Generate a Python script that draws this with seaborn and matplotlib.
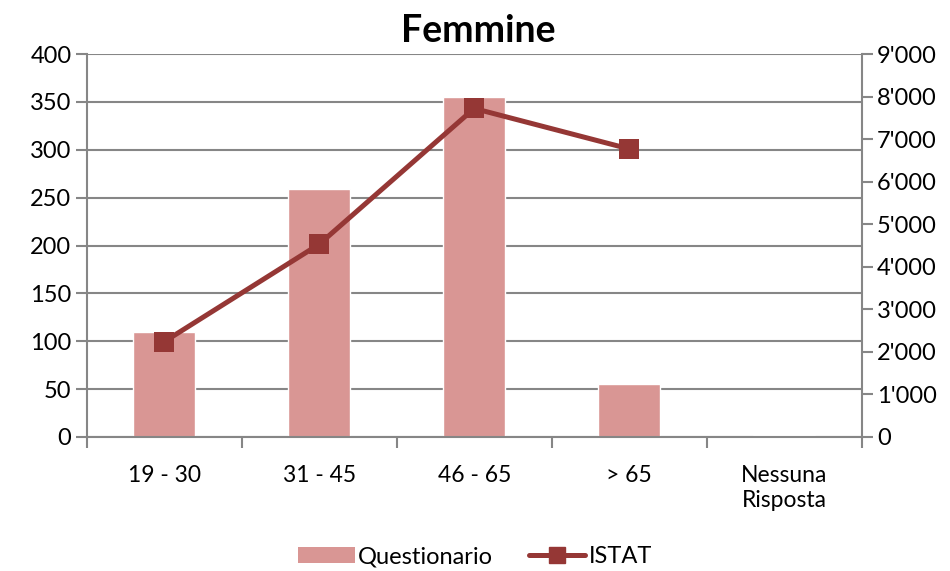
import numpy as np
import pandas as pd
import matplotlib
matplotlib.use("Agg")
import matplotlib.pyplot as plt
import seaborn as sns
from matplotlib.ticker import FuncFormatter, MultipleLocator, FixedLocator
from matplotlib.lines import Line2D
from matplotlib.patches import Patch

categories = ["19 - 30", "31 - 45", "46 - 65", "> 65", "Nessuna\nRisposta"]
questionario = [110, 259, 355, 55, 2]
istat_categories = ["19 - 30", "31 - 45", "46 - 65", "> 65"]
istat = [2240, 4530, 7720, 6770]

bar_color = "#D99694"
line_color = "#953735"
grid_color = "#868686"

sns.set_theme(style="white")
plt.rcParams["font.family"] = ["Lato", "DejaVu Sans"]
plt.rcParams["text.color"] = "black"

df_bar = pd.DataFrame({"fascia": categories, "valore": questionario})
df_line = pd.DataFrame({"pos": [categories.index(c) for c in istat_categories], "valore": istat})

fig, ax = plt.subplots(figsize=(9.5, 5.71), dpi=100)
fig.subplots_adjust(left=0.0913, right=0.907, top=0.9054, bottom=0.2347)

sns.barplot(data=df_bar, x="fascia", y="valore", color=bar_color, width=0.4,
            saturation=1, ax=ax, zorder=2)
ax.set_xlim(-0.5, len(categories) - 0.5)
ax.set_ylim(0, 400)
ax.yaxis.set_major_locator(MultipleLocator(50))
ax.grid(axis="y", color=grid_color, linewidth=1.5, zorder=0)
ax.set_axisbelow(True)
ax.set_xlabel("")
ax.set_ylabel("")

ax2 = ax.twinx()
sns.lineplot(data=df_line, x="pos", y="valore", color=line_color, linewidth=3.6,
             marker="s", markersize=14, markeredgewidth=0, ax=ax2, zorder=3)
ax2.set_ylim(0, 9000)
ax2.yaxis.set_major_locator(MultipleLocator(1000))
ax2.yaxis.set_major_formatter(FuncFormatter(lambda v, p: f"{int(v):,}".replace(",", "'")))
ax2.set_ylabel("")
ax2.set_xlabel("")
ax2.grid(False)

for a in (ax, ax2):
    for s in a.spines.values():
        s.set_visible(False)
ax.spines["left"].set_visible(True)
ax.spines["bottom"].set_visible(True)
ax2.spines["right"].set_visible(True)
for s in (ax.spines["left"], ax.spines["bottom"], ax2.spines["right"]):
    s.set_color(grid_color)
    s.set_linewidth(1.5)

ax.set_xticks(range(len(categories)))
ax.set_xticklabels(categories, fontsize=16.5, color="black", linespacing=1.25)
ax.xaxis.set_minor_locator(FixedLocator(np.arange(-0.5, len(categories), 1.0)))
ax.tick_params(axis="x", which="major", length=0, pad=20)
ax.tick_params(axis="x", which="minor", length=8, width=1.5, color=grid_color, direction="out", bottom=True)
ax.tick_params(axis="y", length=8, width=1.5, color=grid_color, direction="out", labelsize=17,
               labelcolor="black", left=True, pad=3)
ax2.tick_params(axis="y", length=8, width=1.5, color=grid_color, direction="out", labelsize=17,
                labelcolor="black", right=True, pad=3)

fig.text(0.503, 0.945, "Femmine", ha="center", va="center", fontsize=27, fontweight="bold",
         color="black")

handles = [Patch(facecolor=bar_color, edgecolor="none"),
           Line2D([0], [0], color=line_color, linewidth=3.6, marker="s", markersize=12)]
fig.legend(handles, ["Questionario", "ISTAT"], loc="center", bbox_to_anchor=(0.5, 0.025),
           ncol=2, frameon=False, fontsize=17, handlelength=2.4, handletextpad=0.15,
           columnspacing=1.5)

fig.savefig("out.png", dpi=100)
